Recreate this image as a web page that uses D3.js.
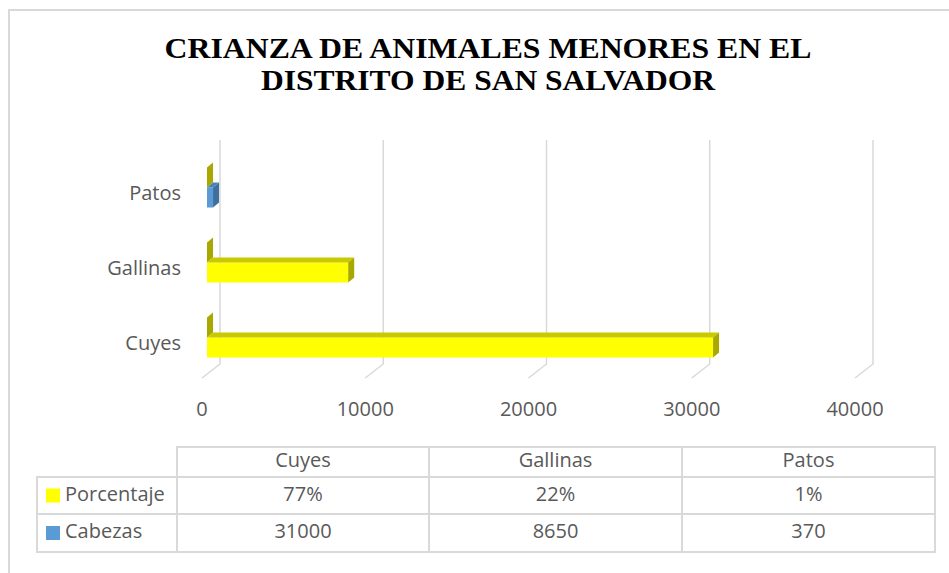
<!DOCTYPE html>
<html>
<head>
<meta charset="utf-8">
<script src="https://cdn.jsdelivr.net/npm/d3@7"></script>
<style>
  body { margin: 0; background: #fff; }
  text { font-family: 'Open Sans', sans-serif; }
</style>
</head>
<body>
<div id="chart"></div>
<script>
// chart data
const categories = ["Cuyes", "Gallinas", "Patos"];
const seriesNames = ["Porcentaje", "Cabezas"];
const porcentaje = [0.77, 0.22, 0.01];
const porcentajeLabels = ["77%", "22%", "1%"];
const cabezas = [31000, 8650, 370];
const xTicks = [0, 10000, 20000, 30000, 40000];
const titleLines = ["CRIANZA DE ANIMALES MENORES EN EL", "DISTRITO DE SAN SALVADOR"];

// styles
const YELLOW = { front: "#FFFF00", top: "#C9C900", side: "#A8A800" };
const BLUE = { front: "#5B9BD5", top: "#4A83B8", side: "#3F6F9E" };
const pointColors = [YELLOW, YELLOW, BLUE]; // Cabezas bars vary by point
const legendColors = { Porcentaje: "#FFFF00", Cabezas: "#5B9BD5" };
const GRID = "#d9d9d9";
const TXT = "#595959";

const width = 949, height = 573;

const svg = d3.select("#chart").append("svg")
    .attr("width", width)
    .attr("height", height);

// outer chart border (continues off picture)
svg.append("rect")
    .attr("x", 9).attr("y", 10)
    .attr("width", 1000).attr("height", 1000)
    .attr("fill", "none")
    .attr("stroke", GRID)
    .attr("stroke-width", 2);

// title
const titleLens = [647, 454];
svg.append("g")
    .selectAll("text")
    .data(titleLines)
    .join("text")
    .attr("x", 488)
    .attr("y", (d, i) => 58 + i * 32)
    .attr("text-anchor", "middle")
    .attr("textLength", (d, i) => titleLens[i])
    .attr("lengthAdjust", "spacingAndGlyphs")
    .style("font-family", "'Liberation Serif', 'Times New Roman', serif")
    .style("font-weight", "bold")
    .style("font-size", "30px")
    .attr("fill", "#000")
    .text(d => d);

// 3D geometry
const x = d3.scaleLinear().domain([0, 40000]).range([220, 873]); // back wall
const wallTop = 140, wallBottom = 364;
const floorDx = -18, floorDy = 14;
const barDx = -13;           // bar front face offset from back wall
const depth = [6, -5];       // bar depth (to the back)

// categories on the front plane, Cuyes at bottom
const y = d3.scaleBand()
    .domain(categories.slice().reverse())
    .range([150, 375]);
const ySub = d3.scaleBand()
    .domain(seriesNames)
    .range([0, y.bandwidth()])
    .paddingOuter(0.875);

// gridlines and floor
const grid = svg.append("g")
    .attr("fill", "none")
    .attr("stroke", GRID)
    .attr("stroke-width", 1.5);
grid.selectAll("path")
    .data(xTicks)
    .join("path")
    .attr("d", t => `M${x(t)},${wallTop}V${wallBottom}L${x(t) + floorDx},${wallBottom + floorDy}`);

// tick labels
svg.append("g")
    .selectAll("text")
    .data(xTicks)
    .join("text")
    .attr("x", t => x(t) + floorDx)
    .attr("y", 411)
    .attr("text-anchor", "middle")
    .attr("dominant-baseline", "middle")
    .style("font-size", "20px")
    .attr("fill", TXT)
    .text(t => t);

// category labels
svg.append("g")
    .selectAll("text")
    .data(categories)
    .join("text")
    .attr("x", 181)
    .attr("y", c => y(c) + y.bandwidth() / 2 + 7)
    .attr("text-anchor", "end")
    .attr("dominant-baseline", "middle")
    .style("font-size", "20px")
    .attr("fill", TXT)
    .text(c => c);

// bars
const bars = [];
categories.forEach((c, i) => {
    bars.push({ cat: c, series: "Porcentaje", value: porcentaje[i], col: YELLOW });
    bars.push({ cat: c, series: "Cabezas", value: cabezas[i], col: pointColors[i] });
});
// paint from back (top) to front (bottom)
bars.sort((a, b) => (y(a.cat) + ySub(a.series)) - (y(b.cat) + ySub(b.series)));

const bh = ySub.bandwidth();
const barG = svg.append("g")
    .selectAll("g")
    .data(bars)
    .join("g");

const x0 = () => x(0) + barDx;
const x1 = d => x(d.value) + barDx;
const yt = d => y(d.cat) + ySub(d.series);

barG.append("rect")
    .attr("x", x0)
    .attr("y", yt)
    .attr("width", d => Math.max(0, x1(d) - x0()))
    .attr("height", bh)
    .attr("fill", d => d.col.front);

barG.append("path")
    .attr("d", d => {
        const a = x0(), b = x1(d), t = yt(d);
        return `M${a},${t}L${a + depth[0]},${t + depth[1]}L${b + depth[0]},${t + depth[1]}L${b},${t}Z`;
    })
    .attr("fill", d => d.col.top);

barG.append("path")
    .attr("d", d => {
        const b = x1(d), t = yt(d);
        return `M${b},${t}L${b + depth[0]},${t + depth[1]}L${b + depth[0]},${t + bh + depth[1]}L${b},${t + bh}Z`;
    })
    .attr("fill", d => d.col.side);

// data table
const colX = [177, 429, 682, 935];
const tableLeft = 37;
const rowY = [447, 477, 514, 552];
const table = svg.append("g")
    .attr("stroke", GRID)
    .attr("stroke-width", 2)
    .attr("fill", "none");

// header row outline
table.append("path")
    .attr("d", `M${colX[0]},${rowY[1]}V${rowY[0]}H${colX[3]}V${rowY[3]}H${tableLeft}V${rowY[1]}H${colX[3]}`);
table.append("path")
    .attr("d", `M${tableLeft},${rowY[2]}H${colX[3]}`);
table.selectAll("line.col")
    .data(colX.slice(0, 3))
    .join("line")
    .attr("class", "col")
    .attr("x1", d => d).attr("x2", d => d)
    .attr("y1", (d, i) => i === 0 ? rowY[0] : rowY[0])
    .attr("y2", rowY[3]);

const colCenter = i => (colX[i] + colX[i + 1]) / 2;
const rowCenter = r => (rowY[r] + rowY[r + 1]) / 2;

const cellText = svg.append("g")
    .style("font-size", "20px")
    .attr("fill", TXT)
    .attr("text-anchor", "middle")
    .attr("dominant-baseline", "middle");

cellText.selectAll("text.h")
    .data(categories)
    .join("text")
    .attr("class", "h")
    .attr("x", (d, i) => colCenter(i))
    .attr("y", rowCenter(0))
    .text(d => d);

const rows = [porcentajeLabels, cabezas.map(String)];
rows.forEach((vals, r) => {
    cellText.append("g")
        .selectAll("text")
        .data(vals)
        .join("text")
        .attr("x", (d, i) => colCenter(i))
        .attr("y", rowCenter(r + 1))
        .text(d => d);
});

// legend keys in table
const legend = svg.append("g")
    .selectAll("g")
    .data(seriesNames)
    .join("g")
    .attr("transform", (d, i) => `translate(46,${rowCenter(i + 1)})`);
legend.append("rect")
    .attr("x", 0).attr("y", -7)
    .attr("width", 14).attr("height", 14)
    .attr("fill", d => legendColors[d]);
legend.append("text")
    .attr("x", 19)
    .attr("dominant-baseline", "middle")
    .style("font-size", "20px")
    .attr("fill", TXT)
    .text(d => d);
</script>
</body>
</html>
